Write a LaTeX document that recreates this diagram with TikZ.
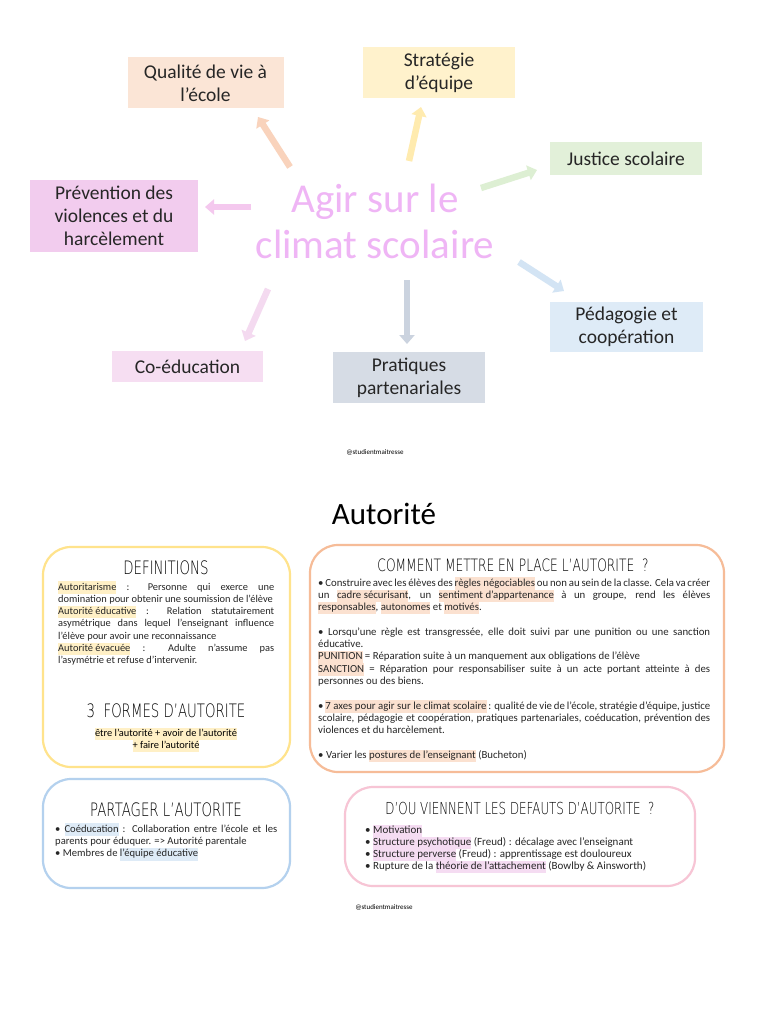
\documentclass[tikz,border=0pt]{standalone}
\usepackage{fontspec}
\setmainfont{Carlito}
\newfontfamily\headfont{DejaVu Sans ExtraLight}[FakeStretch=0.72]
\usetikzlibrary{arrows.meta}
\definecolor{fQ}{HTML}{FBE5D6}
\definecolor{fS}{HTML}{FFF2CC}
\definecolor{fJ}{HTML}{E2F0D9}
\definecolor{fP}{HTML}{F2CCEE}
\definecolor{fD}{HTML}{DEEBF7}
\definecolor{fC}{HTML}{F6DEF2}
\definecolor{fR}{HTML}{D6DCE5}
\definecolor{aQ}{HTML}{F9D3BC}
\definecolor{aS}{HTML}{FFEBAF}
\definecolor{aJ}{HTML}{DDEFD3}
\definecolor{aP}{HTML}{F4C8EE}
\definecolor{aD}{HTML}{D3E4F4}
\definecolor{aR}{HTML}{CBD3DF}
\definecolor{aC}{HTML}{F4DAF0}
\definecolor{title}{HTML}{EFB5F5}
\definecolor{bY}{HTML}{FFE38C}
\definecolor{bO}{HTML}{F6BC98}
\definecolor{bB}{HTML}{B4D1EE}
\definecolor{bK}{HTML}{F7C5D5}
\definecolor{hy}{HTML}{FFF0C6}
\definecolor{hp}{HTML}{FBE1D0}
\definecolor{hb}{HTML}{DEEBF7}
\definecolor{hk}{HTML}{F5DCF2}
\newcommand\hl[2]{{\setlength{\fboxsep}{0pt}\colorbox{#1}{\strut #2}}}
\newcommand\bodysetup{\hyphenpenalty=10000\spaceskip=0.23em plus 0.4em minus 0.1em\relax}
\begin{document}
\begin{tikzpicture}[x=1pt,y=-1pt,
  topbox/.style={inner sep=0pt, align=center, text=black!85,
    font=\fontsize{19.5}{23}\selectfont},
  blockarrow/.style={line width=6.5pt, -{Triangle[length=9pt,width=15pt]}},
  rbox/.style={draw, line width=2.2pt, rounded corners=28pt, inner sep=0pt},
  head/.style={inner sep=0pt, font=\headfont\fontsize{18.5}{20}\selectfont},
  body/.style={inner sep=0pt, anchor=base west, text=black!85,
    font=\fontsize{10.4}{12.3}\selectfont},
  wmark/.style={inner sep=0pt, font=\fontsize{7}{8}\selectfont}]
\useasboundingbox[fill=white] (0,0) rectangle (768,1024);

% ---- top mind map ----
\node[topbox, fill=fQ, minimum width=156pt, minimum height=51pt] (qual) at (205.5,83) {Qualité de vie à\\l’école};
\node[topbox, fill=fS, minimum width=152pt, minimum height=51pt] (strat) at (439,72.5) {Stratégie\\d’équipe};
\node[topbox, fill=fJ, minimum width=152pt, minimum height=33pt] (just) at (626,158.5) {Justice scolaire};
\node[topbox, fill=fP, minimum width=168pt, minimum height=72pt] (prev) at (114,216) {Prévention des\\violences et du\\harcèlement};
\node[topbox, fill=fD, minimum width=153pt, minimum height=50pt] (peda) at (626.5,327) {Pédagogie et\\coopération};
\node[topbox, fill=fC, minimum width=151pt, minimum height=31pt] (coed) at (187.5,366.5) {Co-éducation};
\node[topbox, fill=fR, minimum width=152pt, minimum height=51pt] (prat) at (409,377.5) {Pratiques\\partenariales};

\node[inner sep=0pt, align=center, text=title, font=\fontsize{41}{46}\selectfont] (center) at (375,221) {Agir sur le\\climat scolaire};

\coordinate (q1) at (290,167); \coordinate (q2) at (258,117);
\coordinate (s1) at (409,161); \coordinate (s2) at (421,107);
\coordinate (j1) at (481,188); \coordinate (j2) at (537,170);
\coordinate (p1) at (251,207); \coordinate (p2) at (205,207);
\coordinate (d1) at (519,262); \coordinate (d2) at (564,291);
\coordinate (r1) at (407,280); \coordinate (r2) at (407,344);
\coordinate (c1) at (268,289); \coordinate (c2) at (245,341);
\draw[blockarrow, aQ] (q1) -- (q2);
\draw[blockarrow, aS] (s1) -- (s2);
\draw[blockarrow, aJ] (j1) -- (j2);
\draw[blockarrow, aP] (p1) -- (p2);
\draw[blockarrow, aD] (d1) -- (d2);
\draw[blockarrow, aR] (r1) -- (r2);
\draw[blockarrow, aC] (c1) -- (c2);

\node[wmark] (mark1) at (375,452) {@studientmaitresse};

% ---- Autorité ----
\node[inner sep=0pt, font=\fontsize{31}{33}\selectfont] (autor) at (384,514) {Autorité};

\node[rbox, draw=bY, minimum width=247pt, minimum height=220pt] (defbox) at (166.5,657) {};
\node[rbox, draw=bO, minimum width=414pt, minimum height=227pt] (combox) at (517,658.5) {};
\node[rbox, draw=bB, minimum width=247pt, minimum height=109pt] (parbox) at (166.5,833.5) {};
\node[rbox, draw=bK, minimum width=350pt, minimum height=99pt] (doubox) at (520,836.5) {};

\node[head] (defh) at (166,568) {DEFINITIONS};
\node[body] (deft) at (58,590) {\parbox[t]{216pt}{\bodysetup\strut
\hl{hy}{Autoritarisme} : Personne qui exerce une\linebreak domination pour obtenir une soumission de l’élève\par
\hl{hy}{Autorité éducative} : Relation statutairement\linebreak asymétrique dans lequel l’enseignant influence\linebreak l’élève pour avoir une reconnaissance\par
\hl{hy}{Autorité évacuée} : Adulte n’assume pas\linebreak l’asymétrie et refuse d’intervenir.}};
\node[head] (formh) at (166,711) {3\ \ FORMES D’AUTORITE};
\node[inner sep=0pt, align=center, font=\fontsize{10.4}{12.3}\selectfont] (formt) at (166,740) {\hl{hy}{être l’autorité + avoir de l’autorité}\\\hl{hy}{+ faire l’autorité}};

\node[head, font=\headfont\fontsize{17}{20}\selectfont] (comh) at (513,565) {COMMENT METTRE EN PLACE L’AUTORITE \ ?};
\node[body, font=\fontsize{10.8}{12.3}\selectfont] (comt) at (318,586) {\parbox[t]{392pt}{\bodysetup\strut
• Construire avec les élèves des \hl{hp}{règles négociables} ou non au sein de la classe. Cela va créer\linebreak un \hl{hp}{cadre sécurisant}, un \hl{hp}{sentiment d’appartenance} à un groupe, rend les élèves\linebreak \hl{hp}{responsables}, \hl{hp}{autonomes} et \hl{hp}{motivés}.\par\vskip12.3pt
• Lorsqu’une règle est transgressée, elle doit suivi par une punition ou une sanction\linebreak éducative.\par
\hl{hp}{PUNITION} = Réparation suite à un manquement aux obligations de l’élève\par
\hl{hp}{SANCTION} = Réparation pour responsabiliser suite à un acte portant atteinte à des\linebreak personnes ou des biens.\par\vskip12.3pt
• \hl{hp}{7 axes pour agir sur le climat scolaire} : qualité de vie de l’école, stratégie d’équipe, justice\linebreak scolaire, pédagogie et coopération, pratiques partenariales, coéducation, prévention des\linebreak violences et du harcèlement.\par\vskip12.3pt
• Varier les \hl{hp}{postures de l’enseignant} (Bucheton)}};

\node[head] (parh) at (166,810) {PARTAGER L’AUTORITE};
\node[body, font=\fontsize{10.6}{12.4}\selectfont] (part) at (55,832) {\parbox[t]{222pt}{\bodysetup\strut
• \hl{hb}{Coéducation} : Collaboration entre l’école et les\linebreak parents pour éduquer. => Autorité parentale\par
• Membres de \hl{hb}{l’équipe éducative}}};

\node[head, font=\headfont\fontsize{16.5}{20}\selectfont] (douh) at (520,808) {D’OU VIENNENT LES DEFAUTS D’AUTORITE \ ?};
\node[body, font=\fontsize{11}{12.1}\selectfont] (dout) at (365,833) {\parbox[t]{320pt}{\raggedright\strut
• \hl{hk}{Motivation}\par
• \hl{hk}{Structure psychotique} (Freud) : décalage avec l’enseignant\par
• \hl{hk}{Structure perverse} (Freud) : apprentissage est douloureux\par
• Rupture de la \hl{hk}{théorie de l’attachement} (Bowlby \& Ainsworth)}};

\node[wmark] (mark2) at (384,907) {@studientmaitresse};
\end{tikzpicture}
\end{document}
